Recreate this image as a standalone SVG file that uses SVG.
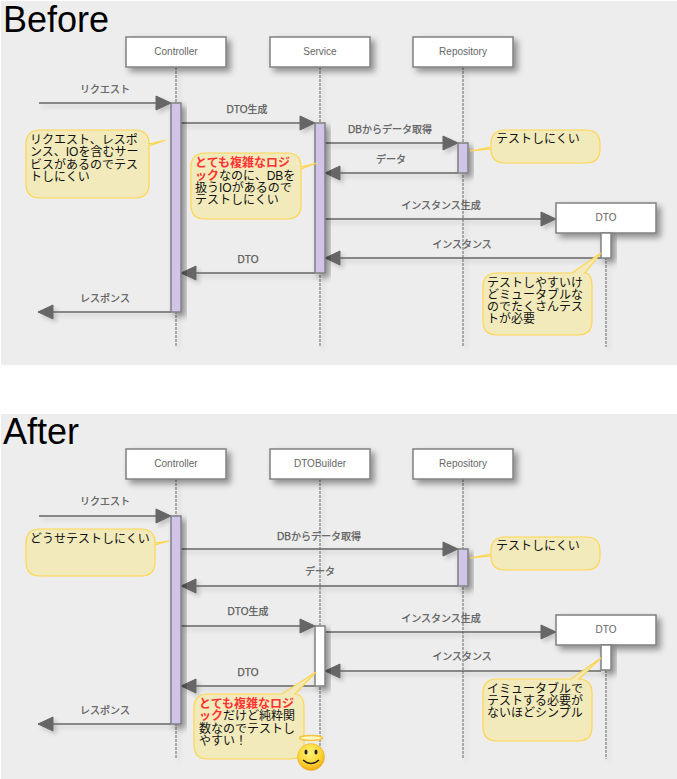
<svg xmlns="http://www.w3.org/2000/svg" width="677" height="779" viewBox="0 0 677 779">
<defs>
<style>
text{font-family:"Liberation Sans","Noto Sans CJK JP",sans-serif}
.panel{fill:#ededed}
.title{font-size:36px;fill:#000}
.box{fill:#fff;stroke:#808080;stroke-width:1.5}
.bt{font-size:10px;fill:#666;text-anchor:middle}
.life{stroke:#666;stroke-width:1;stroke-dasharray:3 1;fill:none}
.msg{stroke:#666;stroke-width:1.5;fill:none}
.head{fill:#666;stroke:#666;stroke-width:1}
.lbl{font-size:10px;fill:#555;text-anchor:middle;stroke:#666;stroke-width:.25}
.act{fill:#d0c4e8;stroke:#808080;stroke-width:1.5}
.actw{fill:#fff;stroke:#808080;stroke-width:1.5}
.note{fill:#f2eabb;stroke:#ffd54f;stroke-width:1.2}
.nt{font-size:12px;fill:#111}
.red{fill:#ff3333;font-weight:bold}
</style>
<filter id="sh" x="-40%" y="-40%" width="200%" height="200%"><feDropShadow dx="4" dy="4" stdDeviation="3" flood-color="#000" flood-opacity="0.4"/></filter>
<filter id="shl" filterUnits="userSpaceOnUse" x="0" y="0" width="677" height="779"><feDropShadow dx="3" dy="3" stdDeviation="2" flood-color="#000" flood-opacity="0.18"/></filter>
<radialGradient id="face" cx="45%" cy="35%" r="70%"><stop offset="0" stop-color="#fff27a"/><stop offset="0.6" stop-color="#ffd633"/><stop offset="1" stop-color="#f0a010"/></radialGradient>
<marker id="a" markerUnits="userSpaceOnUse" markerWidth="18" markerHeight="18" refX="16" refY="9" orient="auto"><path class="head" d="M1 2L16 9L1 16Z"/></marker>
</defs>

<rect class="panel" x="1" y="1" width="676" height="364"/>
<rect class="panel" x="1" y="414" width="676" height="365"/>
<text class="title" x="3" y="32">Before</text>
<text class="title" x="3" y="444">After</text>

<g id="connectors">
<g filter="url(#shl)">
<path class="life" d="M176 67V347M320 67V347M463 67V347M606 233V347"/>
<path class="life" d="M176 479V759M320 479V759M463 479V759M606 646V759"/>
<path class="msg" marker-end="url(#a)" d="M39 103H171"/>
<path class="msg" marker-end="url(#a)" d="M181 123H315"/>
<path class="msg" marker-end="url(#a)" d="M325 143H458"/>
<path class="msg" marker-end="url(#a)" d="M458 173H325"/>
<path class="msg" marker-end="url(#a)" d="M325 219H556"/>
<path class="msg" marker-end="url(#a)" d="M601 258H325"/>
<path class="msg" marker-end="url(#a)" d="M315 273H181"/>
<path class="msg" marker-end="url(#a)" d="M171 312H38"/>
<path class="msg" marker-end="url(#a)" d="M39 516H171"/>
<path class="msg" marker-end="url(#a)" d="M181 549H458"/>
<path class="msg" marker-end="url(#a)" d="M458 586H181"/>
<path class="msg" marker-end="url(#a)" d="M181 626H315"/>
<path class="msg" marker-end="url(#a)" d="M325 632H556"/>
<path class="msg" marker-end="url(#a)" d="M601 671H325"/>
<path class="msg" marker-end="url(#a)" d="M315 686H181"/>
<path class="msg" marker-end="url(#a)" d="M171 724H38"/>
</g>
<g>
<text class="lbl" x="105" y="93">リクエスト</text>
<text class="lbl" x="247" y="113">DTO生成</text>
<text class="lbl" x="390" y="133">DBからデータ取得</text>
<text class="lbl" x="391" y="163">データ</text>
<text class="lbl" x="441" y="209">インスタンス生成</text>
<text class="lbl" x="462" y="248">インスタンス</text>
<text class="lbl" x="248" y="263">DTO</text>
<text class="lbl" x="105" y="302">レスポンス</text>
<text class="lbl" x="105" y="505">リクエスト</text>
<text class="lbl" x="319" y="540">DBからデータ取得</text>
<text class="lbl" x="320" y="575">データ</text>
<text class="lbl" x="248" y="615">DTO生成</text>
<text class="lbl" x="441" y="622">インスタンス生成</text>
<text class="lbl" x="462" y="660">インスタンス</text>
<text class="lbl" x="248" y="676">DTO</text>
<text class="lbl" x="105" y="714">レスポンス</text>
</g>
</g>

<g id="before-controller"><rect class="box" filter="url(#sh)" x="126" y="37" width="100" height="30"/><text class="bt" x="176" y="55">Controller</text><rect class="act" filter="url(#sh)" x="171" y="103" width="10" height="209"/></g>
<g id="before-service"><rect class="box" filter="url(#sh)" x="270" y="37" width="100" height="30"/><text class="bt" x="320" y="55">Service</text><rect class="act" filter="url(#sh)" x="315" y="123" width="10" height="150"/></g>
<g id="before-repository"><rect class="box" filter="url(#sh)" x="413" y="37" width="100" height="30"/><text class="bt" x="463" y="55">Repository</text><rect class="act" filter="url(#sh)" x="458" y="143" width="10" height="30"/></g>
<g id="before-dto"><rect class="box" filter="url(#sh)" x="556" y="203" width="100" height="30"/><text class="bt" x="606" y="221">DTO</text><rect class="actw" filter="url(#sh)" x="601" y="233" width="10" height="25"/></g>

<g id="after-controller"><rect class="box" filter="url(#sh)" x="126" y="449" width="100" height="30"/><text class="bt" x="176" y="467">Controller</text><rect class="act" filter="url(#sh)" x="171" y="516" width="10" height="208"/></g>
<g id="after-dtobuilder"><rect class="box" filter="url(#sh)" x="270" y="449" width="100" height="30"/><text class="bt" x="320" y="467">DTOBuilder</text><rect class="actw" filter="url(#sh)" x="315" y="626" width="10" height="60"/></g>
<g id="after-repository"><rect class="box" filter="url(#sh)" x="413" y="449" width="100" height="30"/><text class="bt" x="463" y="467">Repository</text><rect class="act" filter="url(#sh)" x="458" y="549" width="10" height="37"/></g>
<g id="after-dto"><rect class="box" filter="url(#sh)" x="556" y="615" width="100" height="30"/><text class="bt" x="606" y="633">DTO</text><rect class="actw" filter="url(#sh)" x="601" y="645" width="10" height="25"/></g>

<g id="note-b1"><path class="note" d="M40 130H135Q149 130 149 144L166 140L149 146V184Q149 198 135 198H40Q26 198 26 184V144Q26 130 40 130Z"/>
<text class="nt"><tspan x="30" y="144">リクエスト、レスポ</tspan><tspan x="30" y="156">ンス、IOを含むサー</tspan><tspan x="30" y="169">ビスがあるのでテス</tspan><tspan x="30" y="181">トしにくい</tspan></text></g>
<g id="note-b2"><path class="note" d="M205 153H287Q301 153 301 167L317 163L301 169V205Q301 219 287 219H205Q191 219 191 205V167Q191 153 205 153Z"/>
<text class="nt"><tspan x="195" y="167" class="red">とても複雑なロジ</tspan><tspan x="195" y="180" class="red">ック</tspan><tspan>なのに、DBを</tspan><tspan x="195" y="192">扱うIOがあるので</tspan><tspan x="195" y="204">テストしにくい</tspan></text></g>
<g id="note-b3"><path class="note" d="M505 130H586Q600 130 600 144V149Q600 163 586 163H505Q491 163 491 149L470 151L491 147V144Q491 130 505 130Z"/>
<text class="nt" x="496" y="143">テストしにくい</text></g>
<g id="note-b4"><path class="note" d="M497 273H572L601 253L585 273Q592 273 592 287V321Q592 335 578 335H497Q483 335 483 321V287Q483 273 497 273Z"/>
<text class="nt"><tspan x="487" y="287">テストしやすいけ</tspan><tspan x="487" y="299">どミュータブルな</tspan><tspan x="487" y="311">のでたくさんテス</tspan><tspan x="487" y="323">トが必要</tspan></text></g>

<g id="note-a1"><path class="note" d="M40 529H141Q155 529 155 543L169 541L155 545V562Q155 576 141 576H40Q26 576 26 562V543Q26 529 40 529Z"/>
<text class="nt" x="30" y="543">どうせテストしにくい</text></g>
<g id="note-a2"><path class="note" d="M505 537H586Q600 537 600 551V556Q600 570 586 570H505Q491 570 491 556L470 558L491 554V551Q491 537 505 537Z"/>
<text class="nt" x="496" y="550">テストしにくい</text></g>
<g id="note-a3"><path class="note" d="M208 694H282L316 672L295 694Q304 694 304 708V745Q304 759 290 759H208Q194 759 194 745V708Q194 694 208 694Z"/>
<text class="nt"><tspan x="199" y="708" class="red">とても複雑なロジ</tspan><tspan x="199" y="720" class="red">ック</tspan><tspan>だけど純粋関</tspan><tspan x="199" y="733">数なのでテストし</tspan><tspan x="199" y="745">やすい！</tspan></text></g>
<g id="note-a4"><path class="note" d="M497 679H571L601 658L579 679H578Q592 679 592 693V727Q592 741 578 741H497Q483 741 483 727V693Q483 679 497 679Z"/>
<text class="nt"><tspan x="487" y="693">イミュータブルで</tspan><tspan x="487" y="705">テストする必要が</tspan><tspan x="487" y="717">ないほどシンプル</tspan></text></g>

<g id="smiley">
<ellipse cx="311" cy="738" rx="11.5" ry="2.5" fill="#fff6c0" stroke="#f5c542" stroke-width="1.5"/>
<circle cx="311" cy="757" r="13.5" fill="url(#face)" stroke="#e8a820" stroke-width="0.5"/>
<ellipse cx="306" cy="752" rx="1.5" ry="2.5" fill="#222"/>
<ellipse cx="316" cy="752" rx="1.5" ry="2.5" fill="#222"/>
<path d="M303 760Q311 767 319 760" fill="none" stroke="#222" stroke-width="1.5"/>
</g>
</svg>
